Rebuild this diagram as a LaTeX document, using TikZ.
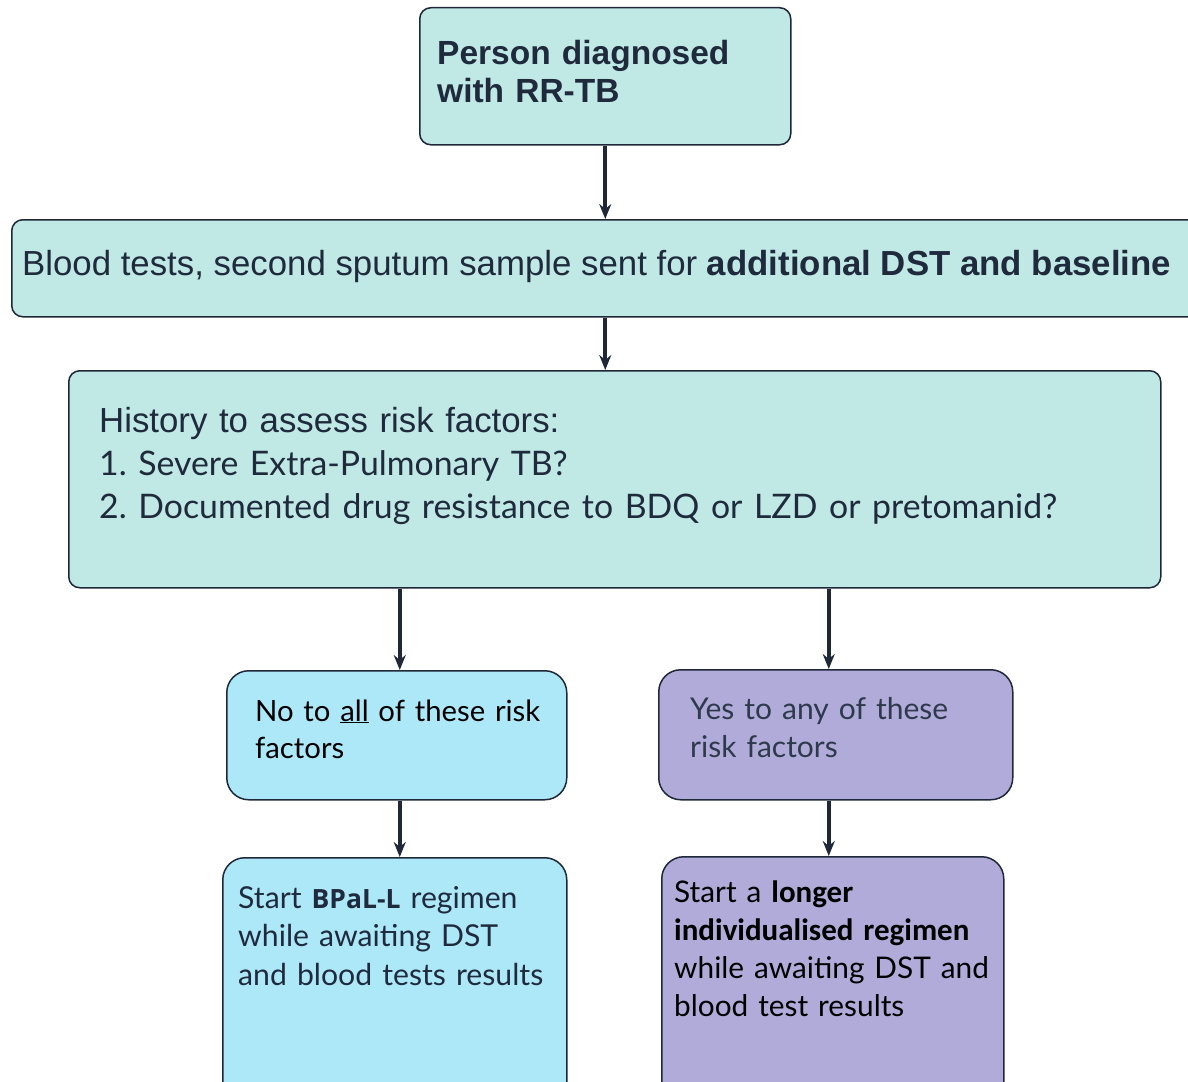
\documentclass[tikz,border=0pt]{standalone}
\usepackage{fontspec}
\setmainfont{Liberation Sans}
\newfontfamily\lightf{Lato}
\newfontfamily\osans{Open Sans}
\newfontfamily\carl{Carlito}
\usetikzlibrary{arrows.meta}
\definecolor{boxteal}{HTML}{C0E9E5}
\definecolor{boxblue}{HTML}{ADE8F9}
\definecolor{boxpurple}{HTML}{B1ABDA}
\definecolor{edgecol}{HTML}{1E2838}
\definecolor{ink}{HTML}{1F2A3D}
\definecolor{slate}{HTML}{2E3A4C}
\frenchspacing
\begin{document}
\frenchspacing
\begin{tikzpicture}[x=1pt,y=-1pt,
  box/.style={draw=edgecol, line width=1.5pt, rounded corners=11pt, inner sep=0pt, anchor=north west},
  bigbox/.style={box, rounded corners=22pt},
  txt/.style={inner sep=0pt, anchor=base west, align=left, text=ink},
  arr/.style={draw=edgecol, line width=3.8pt, -{Stealth[length=15pt,width=12pt,inset=5pt]}}]
\useasboundingbox (0,0) rectangle (1188,1081);
% boxes
\node[box, fill=boxteal, minimum width=371pt, minimum height=137pt] (b1) at (419,7) {};
\node[box, fill=boxteal, minimum width=1220pt, minimum height=97pt] (b2) at (11,219) {};
\node[box, fill=boxteal, minimum width=1092pt, minimum height=217pt] (b3) at (68,370) {};
\node[bigbox, fill=boxblue, minimum width=340pt, minimum height=129pt] (b4) at (226,670) {};
\node[bigbox, fill=boxpurple, minimum width=354pt, minimum height=130pt] (b5) at (658,669) {};
\node[bigbox, fill=boxblue, minimum width=344pt, minimum height=260pt] (b6) at (222,857) {};
\node[bigbox, fill=boxpurple, minimum width=342pt, minimum height=260pt] (b7) at (661,856) {};
% texts
\node[txt, text width=340pt, font=\fontsize{33.5}{38}\selectfont\bfseries] (t1) at (437,64) {Person diagnosed\\with RR-TB};
\node[txt, font=\fontsize{34.8}{40}\selectfont] (t2) at (22,275) {Blood tests, second sputum sample sent for \textbf{additional DST and baseline}};
\node[txt, text width=1080pt, font=\fontsize{34.8}{43}\selectfont] (t3) at (99,432) {History to assess risk factors:\\{\lightf\fontsize{33.8}{43}\selectfont 1. Severe Extra-Pulmonary TB?}\\{\lightf\fontsize{33.8}{43}\selectfont 2. Documented drug resistance to BDQ or LZD or pretomanid?}};
\node[txt, text=black, text width=330pt, font=\lightf\fontsize{29.3}{37.5}\selectfont] (t4) at (255,721) {No to \underline{all} of these risk\\factors};
\node[txt, text=slate, text width=330pt, font=\lightf\fontsize{30}{38}\selectfont] (t5) at (690,719) {Yes to any of these\\risk factors};
\node[txt, text width=335pt, font=\lightf\fontsize{30.2}{38.5}\selectfont] (t6) at (238,908) {Start {\osans\bfseries\fontsize{26.5}{38.5}\selectfont BPaL-L} regimen\\while awaiting DST\\and blood tests results};
\node[txt, text=black, text width=335pt, font=\lightf\fontsize{29.8}{38}\selectfont] (t7) at (674,902) {Start a {\carl\bfseries\fontsize{31}{38}\selectfont longer}\\{\carl\bfseries\fontsize{31}{38}\selectfont individualised regimen}\\while awaiting DST and\\blood test results};
% connectors
\draw[arr] (b1.south) -- (b1.south |- b2.north);
\draw[arr] (b1.south |- b2.south) -- (b1.south |- b3.north);
\draw[arr] ([xshift=3pt]b4.north |- b3.south) -- ([xshift=3pt]b4.north);
\draw[arr] ([xshift=-7pt]b5.north |- b3.south) -- ([xshift=-7pt]b5.north);
\draw[arr] ([xshift=3pt]b4.south) -- ([xshift=3pt]b4.south |- b6.north);
\draw[arr] ([xshift=-7pt]b5.south) -- ([xshift=-7pt]b5.south |- b7.north);
\end{tikzpicture}
\end{document}
